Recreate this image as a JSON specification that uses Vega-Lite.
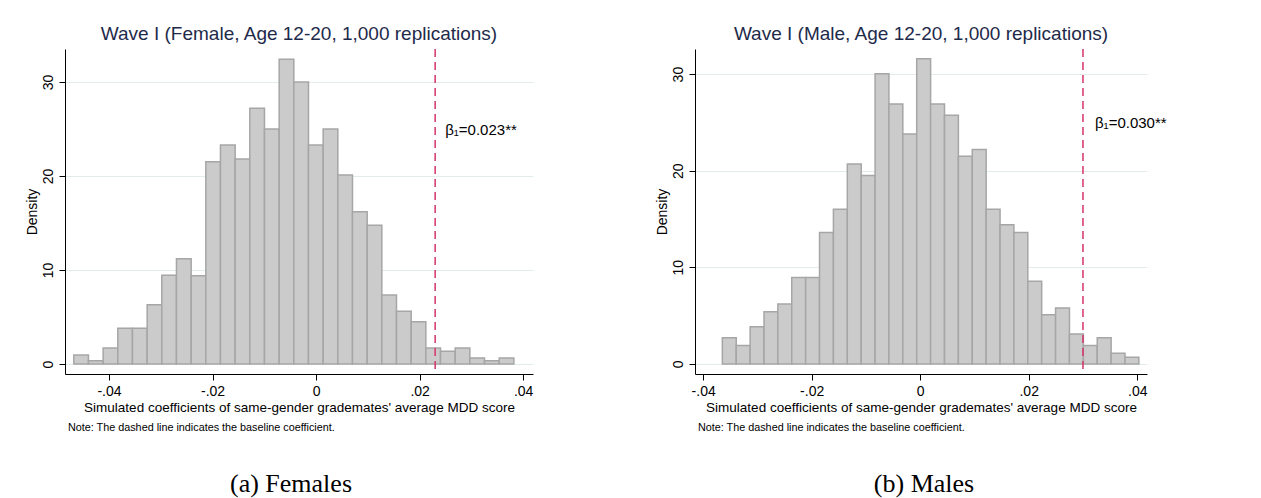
{
  "$schema": "https://vega.github.io/schema/vega-lite/v6.json",
  "background": "white",
  "padding": {"left": 24, "top": 25, "right": 0, "bottom": 0},
  "config": {
    "font": "Liberation Sans",
    "view": {"stroke": null},
    "axis": {
      "domainColor": "#000000",
      "tickColor": "#000000",
      "labelColor": "#000000",
      "titleColor": "#000000",
      "labelFont": "Liberation Sans",
      "titleFont": "Liberation Sans",
      "labelFontSize": 14,
      "titleFontSize": 13.5,
      "titleFontWeight": "normal",
      "tickSize": 6,
      "labelPadding": 4
    },
    "title": {"font": "Liberation Sans", "fontSize": 19, "fontWeight": "normal", "color": "#1e2a4a", "anchor": "middle", "offset": 4}
  },
  "datasets": {
    "female": [
      {"bin_start": -0.04680, "bin_end": -0.04397, "density": 0.95},
      {"bin_start": -0.04397, "bin_end": -0.04113, "density": 0.35},
      {"bin_start": -0.04113, "bin_end": -0.03830, "density": 1.7},
      {"bin_start": -0.03830, "bin_end": -0.03547, "density": 3.8},
      {"bin_start": -0.03547, "bin_end": -0.03263, "density": 3.8},
      {"bin_start": -0.03263, "bin_end": -0.02980, "density": 6.3},
      {"bin_start": -0.02980, "bin_end": -0.02697, "density": 9.45},
      {"bin_start": -0.02697, "bin_end": -0.02413, "density": 11.2},
      {"bin_start": -0.02413, "bin_end": -0.02130, "density": 9.4},
      {"bin_start": -0.02130, "bin_end": -0.01847, "density": 21.5},
      {"bin_start": -0.01847, "bin_end": -0.01563, "density": 23.3},
      {"bin_start": -0.01563, "bin_end": -0.01280, "density": 21.8},
      {"bin_start": -0.01280, "bin_end": -0.00997, "density": 27.2},
      {"bin_start": -0.00997, "bin_end": -0.00713, "density": 25.0},
      {"bin_start": -0.00713, "bin_end": -0.00430, "density": 32.4},
      {"bin_start": -0.00430, "bin_end": -0.00147, "density": 30.0},
      {"bin_start": -0.00147, "bin_end": 0.00137, "density": 23.3},
      {"bin_start": 0.00137, "bin_end": 0.00420, "density": 25.0},
      {"bin_start": 0.00420, "bin_end": 0.00703, "density": 20.1},
      {"bin_start": 0.00703, "bin_end": 0.00987, "density": 16.2},
      {"bin_start": 0.00987, "bin_end": 0.01270, "density": 14.75},
      {"bin_start": 0.01270, "bin_end": 0.01553, "density": 7.35},
      {"bin_start": 0.01553, "bin_end": 0.01837, "density": 5.6},
      {"bin_start": 0.01837, "bin_end": 0.02120, "density": 4.5},
      {"bin_start": 0.02120, "bin_end": 0.02403, "density": 1.7},
      {"bin_start": 0.02403, "bin_end": 0.02687, "density": 1.35},
      {"bin_start": 0.02687, "bin_end": 0.02970, "density": 1.7},
      {"bin_start": 0.02970, "bin_end": 0.03253, "density": 0.65},
      {"bin_start": 0.03253, "bin_end": 0.03537, "density": 0.35},
      {"bin_start": 0.03537, "bin_end": 0.03820, "density": 0.65}
    ],
    "male": [
      {"bin_start": -0.03646, "bin_end": -0.03390, "density": 2.7},
      {"bin_start": -0.03390, "bin_end": -0.03134, "density": 1.9},
      {"bin_start": -0.03134, "bin_end": -0.02878, "density": 3.85},
      {"bin_start": -0.02878, "bin_end": -0.02623, "density": 5.4},
      {"bin_start": -0.02623, "bin_end": -0.02367, "density": 6.2},
      {"bin_start": -0.02367, "bin_end": -0.02111, "density": 8.95},
      {"bin_start": -0.02111, "bin_end": -0.01855, "density": 8.95},
      {"bin_start": -0.01855, "bin_end": -0.01599, "density": 13.6},
      {"bin_start": -0.01599, "bin_end": -0.01343, "density": 16.0},
      {"bin_start": -0.01343, "bin_end": -0.01087, "density": 20.7},
      {"bin_start": -0.01087, "bin_end": -0.00831, "density": 19.5},
      {"bin_start": -0.00831, "bin_end": -0.00576, "density": 30.05},
      {"bin_start": -0.00576, "bin_end": -0.00320, "density": 26.9},
      {"bin_start": -0.00320, "bin_end": -0.00064, "density": 23.8},
      {"bin_start": -0.00064, "bin_end": 0.00192, "density": 31.6},
      {"bin_start": 0.00192, "bin_end": 0.00448, "density": 26.9},
      {"bin_start": 0.00448, "bin_end": 0.00704, "density": 25.75},
      {"bin_start": 0.00704, "bin_end": 0.00960, "density": 21.5},
      {"bin_start": 0.00960, "bin_end": 0.01216, "density": 22.2},
      {"bin_start": 0.01216, "bin_end": 0.01472, "density": 16.0},
      {"bin_start": 0.01472, "bin_end": 0.01727, "density": 14.4},
      {"bin_start": 0.01727, "bin_end": 0.01983, "density": 13.6},
      {"bin_start": 0.01983, "bin_end": 0.02239, "density": 8.55},
      {"bin_start": 0.02239, "bin_end": 0.02495, "density": 5.1},
      {"bin_start": 0.02495, "bin_end": 0.02751, "density": 5.8},
      {"bin_start": 0.02751, "bin_end": 0.03007, "density": 3.1},
      {"bin_start": 0.03007, "bin_end": 0.03263, "density": 1.9},
      {"bin_start": 0.03263, "bin_end": 0.03519, "density": 2.7},
      {"bin_start": 0.03519, "bin_end": 0.03774, "density": 1.1},
      {"bin_start": 0.03774, "bin_end": 0.04030, "density": 0.7}
    ],
    "female_beta": [{"beta": 0.023, "label": "β₁=0.023**"}],
    "male_beta": [{"beta": 0.030, "label": "β₁=0.030**"}],
    "female_caption": [{"caption": "(a) Females"}],
    "male_caption": [{"caption": "(b) Males"}]
  },
  "columns": 2,
  "bounds": "flush",
  "spacing": {"row": 95, "column": 162},
  "concat": [
    {
      "width": 468,
      "height": 325,
      "title": "Wave I (Female, Age 12-20, 1,000 replications)",
      "layer": [
        {
          "data": {"name": "female"},
          "mark": {"type": "rect", "fill": "#cbcbcb", "stroke": "#a6a6a6", "strokeWidth": 1.5},
          "encoding": {
            "x": {"field": "bin_start", "type": "quantitative",
              "scale": {"domain": [-0.0485, 0.0419], "nice": false, "zero": false},
              "axis": {"values": [-0.04, -0.02, 0, 0.02, 0.04], "grid": false,
                "labelExpr": "datum.value == 0 ? '0' : (datum.value < 0 ? '-' : '') + replace(format(abs(datum.value), '.2f'), '0.', '.')",
                "title": "Simulated coefficients of same-gender grademates' average MDD score", "titlePadding": 2}},
            "x2": {"field": "bin_end"},
            "y": {"field": "density", "type": "quantitative",
              "scale": {"domain": [-1.06, 33.5], "nice": false, "zero": false},
              "axis": {"values": [0, 10, 20, 30], "grid": true, "gridColor": "#e2ecec", "gridWidth": 1,
                "labelAngle": -90, "labelAlign": "center", "labelBaseline": "bottom",
                "title": "Density", "titlePadding": 2, "titleFontSize": 14}},
            "y2": {"datum": 0}
          }
        },
        {
          "data": {"name": "female_beta"},
          "mark": {"type": "rule", "color": "#d6336a", "strokeDash": [8, 5], "strokeWidth": 1.5},
          "encoding": {"x": {"field": "beta", "type": "quantitative"}}
        },
        {
          "data": {"name": "female_beta"},
          "mark": {"type": "text", "align": "left", "baseline": "middle", "dx": 10, "fontSize": 15, "color": "#000000"},
          "encoding": {
            "x": {"field": "beta", "type": "quantitative"},
            "y": {"datum": 24.9, "type": "quantitative"},
            "text": {"field": "label"}
          }
        }
      ]
    },
    {
      "width": 452,
      "height": 325,
      "title": "Wave I (Male, Age 12-20, 1,000 replications)",
      "layer": [
        {
          "data": {"name": "male"},
          "mark": {"type": "rect", "fill": "#cbcbcb", "stroke": "#a6a6a6", "strokeWidth": 1.5},
          "encoding": {
            "x": {"field": "bin_start", "type": "quantitative",
              "scale": {"domain": [-0.0415, 0.0418], "nice": false, "zero": false},
              "axis": {"values": [-0.04, -0.02, 0, 0.02, 0.04], "grid": false,
                "labelExpr": "datum.value == 0 ? '0' : (datum.value < 0 ? '-' : '') + replace(format(abs(datum.value), '.2f'), '0.', '.')",
                "title": "Simulated coefficients of same-gender grademates' average MDD score", "titlePadding": 2}},
            "x2": {"field": "bin_end"},
            "y": {"field": "density", "type": "quantitative",
              "scale": {"domain": [-1.04, 32.6], "nice": false, "zero": false},
              "axis": {"values": [0, 10, 20, 30], "grid": true, "gridColor": "#e2ecec", "gridWidth": 1,
                "labelAngle": -90, "labelAlign": "center", "labelBaseline": "bottom",
                "title": "Density", "titlePadding": 2, "titleFontSize": 14}},
            "y2": {"datum": 0}
          }
        },
        {
          "data": {"name": "male_beta"},
          "mark": {"type": "rule", "color": "#d6336a", "strokeDash": [8, 5], "strokeWidth": 1.5},
          "encoding": {"x": {"field": "beta", "type": "quantitative"}}
        },
        {
          "data": {"name": "male_beta"},
          "mark": {"type": "text", "align": "left", "baseline": "middle", "dx": 12, "fontSize": 15, "color": "#000000"},
          "encoding": {
            "x": {"field": "beta", "type": "quantitative"},
            "y": {"datum": 24.9, "type": "quantitative"},
            "text": {"field": "label"}
          }
        }
      ]
    },
    {
      "width": 468,
      "height": 30,
      "data": {"name": "female_caption"},
      "title": {"text": "Note: The dashed line indicates the baseline coefficient.", "anchor": "start", "fontSize": 10.8, "color": "#000000", "offset": 36, "dx": 3},
      "mark": {"type": "text", "font": "Liberation Serif", "fontSize": 26, "color": "#000000", "baseline": "middle", "dx": -8},
      "encoding": {"text": {"field": "caption"}}
    },
    {
      "width": 452,
      "height": 30,
      "data": {"name": "male_caption"},
      "title": {"text": "Note: The dashed line indicates the baseline coefficient.", "anchor": "start", "fontSize": 10.8, "color": "#000000", "offset": 36, "dx": 3},
      "mark": {"type": "text", "font": "Liberation Serif", "fontSize": 26, "color": "#000000", "baseline": "middle", "dx": 3},
      "encoding": {"text": {"field": "caption"}}
    }
  ]
}
